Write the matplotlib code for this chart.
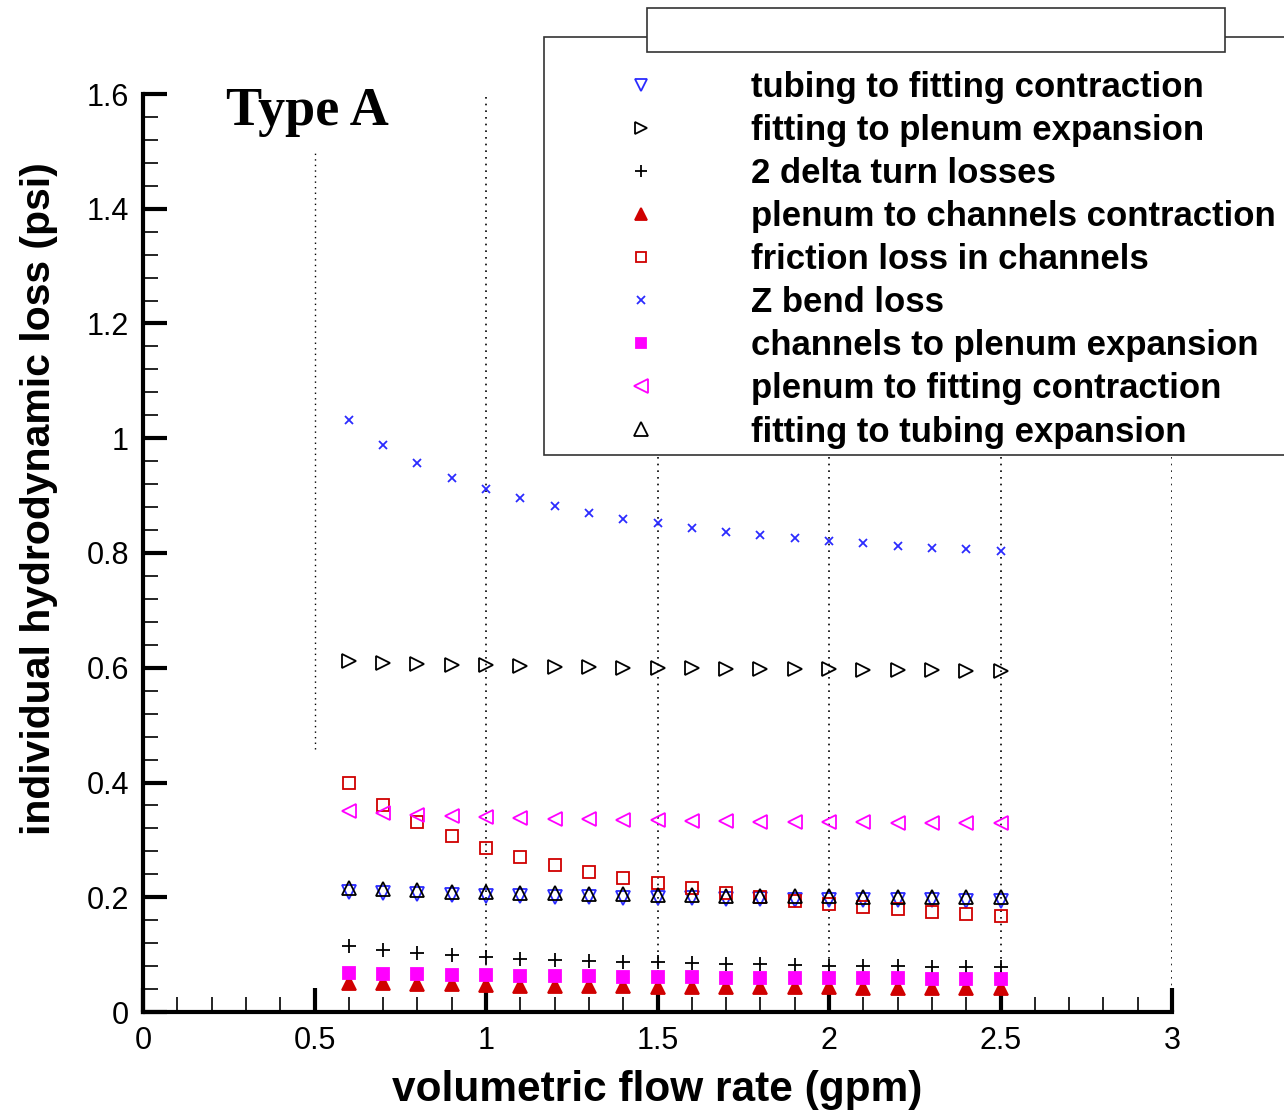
import matplotlib
matplotlib.use("Agg")
import matplotlib.pyplot as plt
from matplotlib.patches import Rectangle
from matplotlib.ticker import MultipleLocator, FormatStrFormatter
import numpy as np

plt.rcParams['font.family'] = ['Liberation Sans', 'DejaVu Sans']

flow = [0.6, 0.7, 0.8, 0.9, 1.0, 1.1, 1.2, 1.3, 1.4, 1.5,
        1.6, 1.7, 1.8, 1.9, 2.0, 2.1, 2.2, 2.3, 2.4, 2.5]

tubing_to_fitting = [0.210, 0.208, 0.206, 0.204, 0.203, 0.202, 0.201, 0.200, 0.199, 0.198,
                     0.198, 0.197, 0.197, 0.196, 0.196, 0.195, 0.195, 0.195, 0.194, 0.194]
fitting_to_plenum = [0.611, 0.609, 0.607, 0.605, 0.604, 0.603, 0.602, 0.601, 0.600, 0.599,
                     0.599, 0.598, 0.598, 0.597, 0.597, 0.596, 0.596, 0.596, 0.595, 0.595]
delta_turn = [0.115, 0.108, 0.103, 0.099, 0.096, 0.093, 0.091, 0.089, 0.088, 0.087,
              0.085, 0.084, 0.083, 0.082, 0.081, 0.080, 0.080, 0.079, 0.078, 0.078]
plenum_to_channels = [0.051, 0.050, 0.049, 0.048, 0.047, 0.046, 0.046, 0.045, 0.045, 0.044,
                      0.044, 0.044, 0.043, 0.043, 0.043, 0.042, 0.042, 0.042, 0.042, 0.042]
friction = [0.399, 0.361, 0.331, 0.307, 0.286, 0.270, 0.256, 0.244, 0.233, 0.225,
            0.216, 0.207, 0.200, 0.193, 0.188, 0.183, 0.179, 0.174, 0.171, 0.167]
z_bend = [1.031, 0.988, 0.956, 0.930, 0.911, 0.895, 0.882, 0.869, 0.859, 0.852,
          0.843, 0.836, 0.831, 0.826, 0.821, 0.817, 0.812, 0.808, 0.807, 0.803]
channels_to_plenum = [0.068, 0.067, 0.066, 0.065, 0.064, 0.063, 0.062, 0.062, 0.061, 0.061,
                      0.061, 0.060, 0.060, 0.060, 0.059, 0.059, 0.059, 0.058, 0.058, 0.058]
plenum_to_fitting = [0.350, 0.347, 0.344, 0.341, 0.340, 0.338, 0.337, 0.336, 0.335, 0.334,
                     0.333, 0.333, 0.332, 0.332, 0.331, 0.331, 0.330, 0.330, 0.329, 0.329]
fitting_to_tubing = [0.216, 0.214, 0.212, 0.210, 0.209, 0.208, 0.207, 0.206, 0.205, 0.204,
                     0.204, 0.203, 0.203, 0.202, 0.202, 0.201, 0.201, 0.201, 0.200, 0.200]

labels = ['tubing to fitting contraction', 'fitting to plenum expansion',
          '2 delta turn losses', 'plenum to channels contraction',
          'friction loss in channels', 'Z bend loss',
          'channels to plenum expansion', 'plenum to fitting contraction',
          'fitting to tubing expansion']

blue = '#2b2bff'
red = '#d00000'
mag = '#ff00ff'

fig = plt.figure(figsize=(12.84, 11.10), dpi=100)
ax = fig.add_axes([143/1284, 98/1110, (1172-143)/1284, (1012-94)/1110])

# dotted grid lines
ax.axvline(0.5, ymin=0.459/1.6, ymax=1.503/1.6, color='k', ls=(0, (1, 3)), lw=1, zorder=1)
for gx in [1.0, 1.5, 2.0, 2.5, 3.0]:
    ax.axvline(gx, color='k', ls=(0, (1, 3)), lw=1.2, zorder=1)

series = [
    (tubing_to_fitting, 'v', blue, 'none', 9.5),
    (fitting_to_plenum, '>', 'k', 'none', 9.5),
    (delta_turn, '+', 'k', 'k', 10),
    (plenum_to_channels, '^', red, red, 9.5),
    (friction, 's', red, 'none', 8),
    (z_bend, 'x', blue, blue, 6),
    (channels_to_plenum, 's', mag, mag, 8),
    (plenum_to_fitting, '<', mag, 'none', 10.5),
    (fitting_to_tubing, '^', 'k', 'none', 10.5),
]
handles = []
for (vals, mk, ec, fc, ms), lab in zip(series, labels):
    h, = ax.plot(flow, vals, ls='none', marker=mk, mec=ec, mfc=fc, ms=ms,
                 mew=1.3, label=lab, zorder=3)
    handles.append(h)

ax.set_xlim(0, 3)
ax.set_ylim(0, 1.6)
ax.xaxis.set_major_locator(MultipleLocator(0.5))
ax.xaxis.set_minor_locator(MultipleLocator(0.1))
ax.yaxis.set_major_locator(MultipleLocator(0.2))
ax.yaxis.set_minor_locator(MultipleLocator(0.04))
ax.xaxis.set_major_formatter(FormatStrFormatter('%g'))
ax.yaxis.set_major_formatter(FormatStrFormatter('%g'))
ax.tick_params(which='major', direction='in', length=17, width=3, labelsize=22, pad=10)
ax.tick_params(which='minor', direction='in', length=11, width=1.2)
for s in ['top', 'right']:
    ax.spines[s].set_visible(False)
for s in ['left', 'bottom']:
    ax.spines[s].set_linewidth(3)

ax.set_xlabel('volumetric flow rate (gpm)', fontsize=30.5, fontweight='bold', labelpad=10)
ax.set_ylabel('individual hydrodynamic loss (psi)', fontsize=29.5, fontweight='bold')
ax.yaxis.set_label_coords(-0.083, 0.559)

ax.text(226/1284, 1 - 125/1110, 'Type A', transform=fig.transFigure,
        family='Liberation Serif', fontweight='bold', fontsize=39, va='baseline')

# legend frame and header box
fig.patches.append(Rectangle((544/1284, 1 - 455/1110), 0.7, (455-37)/1110,
                             transform=fig.transFigure, fc='white', ec='#333333',
                             lw=1.2, zorder=5))
fig.patches.append(Rectangle((647/1284, 1 - 52/1110), (1225-647)/1284, 44/1110,
                             transform=fig.transFigure, fc='white', ec='#333333',
                             lw=1.2, zorder=6))
leg = fig.legend(handles=handles, loc='upper left', bbox_to_anchor=(606/1284, 1 - 71/1110),
                 frameon=False, prop={'weight': 'bold', 'size': 25},
                 handlelength=2, handletextpad=2.18, borderpad=0, borderaxespad=0,
                 labelspacing=0.29, markerscale=0.9)
leg.set_zorder(7)

fig.savefig('out.png', dpi=100)
